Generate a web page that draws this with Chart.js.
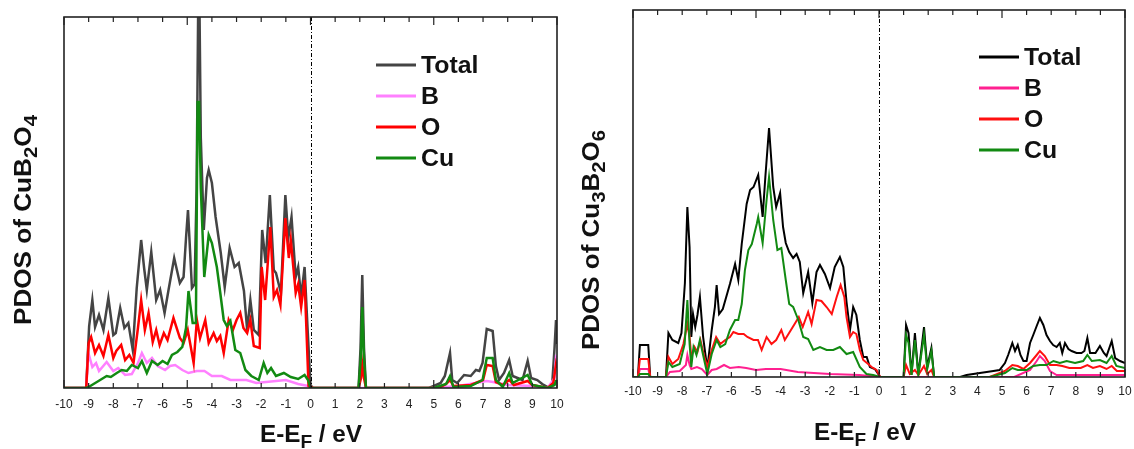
<!DOCTYPE html>
<html>
<head>
<meta charset="utf-8">
<script src="https://cdn.jsdelivr.net/npm/chart.js@4.4.1/dist/chart.umd.min.js"></script>
<style>
  body { margin: 0; background: #fff; }
  #wrap { position: relative; width: 1134px; height: 449px; }
  canvas { position: absolute; top: 0; }
</style>
</head>
<body>
<div id="wrap">
  <canvas id="c-left" width="565" height="449" style="left:0"></canvas>
  <canvas id="c-right" width="569" height="449" style="left:565px"></canvas>
</div>
<script>

// x axis tick values (eV)
let tickValues = [-10, -9, -8, -7, -6, -5, -4, -3, -2, -1, 0, 1, 2, 3, 4, 5, 6, 7, 8, 9, 10];
let seriesNames = ["Total", "B", "O", "Cu"];

// ---- CuB2O4 (left panel), PDOS in arbitrary units ----
let cub2o4TotalE = [-10, -9.1, -8.98, -8.85, -8.74, -8.58, -8.4, -8.2, -8.0, -7.9, -7.72, -7.55, -7.39, -7.21, -7.05, -6.87, -6.75, -6.64, -6.46, -6.26, -6.1, -5.92, -5.76, -5.53, -5.3, -5.15, -5.05, -4.97, -4.81, -4.7, -4.62, -4.56, -4.5, -4.45, -4.33, -4.2, -4.13, -4.0, -3.85, -3.64, -3.48, -3.28, -3.08, -2.91, -2.7, -2.57, -2.44, -2.3, -2.1, -1.96, -1.82, -1.65, -1.49, -1.4, -1.2, -1.02, -0.9, -0.77, -0.6, -0.5, -0.38, -0.24, -0.12, 0.0, 0.1, 1.95, 2.03, 2.1, 2.17, 2.25, 4.8, 5.0, 5.28, 5.45, 5.66, 5.75, 5.95, 6.23, 6.5, 6.71, 6.85, 6.98, 7.15, 7.39, 7.52, 7.65, 7.85, 8.06, 8.2, 8.4, 8.6, 8.81, 8.95, 9.2, 9.4, 9.62, 9.8, 9.9, 9.96, 10];
let cub2o4Total = [0, 0, 62, 88, 61, 73, 58, 90, 53, 55, 80, 60, 65, 38, 100, 148, 120, 98, 136, 88, 98, 75, 98, 130, 105, 111, 150, 178, 100, 104, 200, 371, 371, 250, 158, 210, 218, 205, 171, 135, 101, 140, 121, 125, 97, 58, 88, 58, 53, 158, 125, 193, 118, 115, 95, 193, 150, 171, 111, 121, 91, 121, 60, 3, 0, 0, 40, 113, 40, 0, 0, 2, 5, 12, 35, 8, 5, 13, 12, 18, 17, 25, 59, 57, 22, 8, 15, 28, 12, 10, 8, 27, 10, 8, 4, 1, 2, 40, 68, 44];

let cub2o4BE = [-10, -9.1, -9.01, -8.85, -8.7, -8.58, -8.27, -8.0, -7.8, -7.52, -7.25, -7.0, -6.84, -6.64, -6.43, -6.2, -5.9, -5.7, -5.49, -5.2, -4.95, -4.61, -4.3, -4.0, -3.6, -3.25, -2.6, -2.2, -1.8, -1.0, -0.5, -0.1, 0.0, 5.0, 6.0, 7.15, 7.4, 8.0, 9.0, 9.62, 9.9, 9.96, 10];
let cub2o4B = [0, 0, 35, 21, 25, 17, 26, 17, 20, 13, 14, 25, 35, 25, 30, 22, 18, 22, 23, 18, 15, 17, 17, 12, 12, 8, 8, 5, 6, 8, 4, 2, 0, 0, 2, 7, 6, 3, 2, 0, 10, 31, 30];

let cub2o4OE = [-10, -9.1, -9.0, -8.9, -8.74, -8.58, -8.4, -8.2, -8.0, -7.88, -7.68, -7.52, -7.35, -7.18, -7.0, -6.87, -6.72, -6.57, -6.4, -6.26, -6.12, -5.95, -5.8, -5.56, -5.3, -5.15, -4.98, -4.74, -4.61, -4.48, -4.27, -4.13, -3.93, -3.8, -3.66, -3.52, -3.32, -3.15, -3.0, -2.85, -2.72, -2.57, -2.44, -2.3, -2.06, -1.98, -1.84, -1.63, -1.49, -1.36, -1.22, -1.02, -0.88, -0.8, -0.6, -0.5, -0.38, -0.24, -0.08, 0.1, 1.95, 2.05, 2.1, 2.17, 2.25, 5.2, 5.5, 5.66, 5.8, 6.5, 7.0, 7.15, 7.39, 7.52, 7.8, 8.06, 8.25, 8.81, 9.0, 9.62, 9.85, 9.96, 10];
let cub2o4O = [0, 0, 45, 51, 35, 43, 32, 53, 30, 37, 43, 28, 33, 25, 60, 88, 58, 75, 46, 58, 43, 55, 48, 70, 50, 45, 58, 25, 68, 50, 68, 45, 55, 47, 52, 35, 68, 58, 68, 75, 60, 55, 68, 42, 40, 121, 88, 161, 91, 98, 83, 170, 130, 148, 95, 104, 81, 108, 2, 0, 0, 10, 24, 10, 0, 0, 4, 8, 2, 3, 8, 23, 22, 6, 3, 8, 3, 7, 3, 0, 5, 24, 20];

let cub2o4CuE = [-10, -9.1, -9.0, -8.8, -8.6, -8.27, -8.1, -7.86, -7.66, -7.45, -7.25, -7.0, -6.84, -6.64, -6.43, -6.2, -6.0, -5.8, -5.62, -5.4, -5.2, -5.05, -4.95, -4.78, -4.65, -4.58, -4.52, -4.45, -4.31, -4.13, -4.0, -3.8, -3.66, -3.52, -3.39, -3.25, -3.05, -2.85, -2.64, -2.4, -2.1, -1.9, -1.75, -1.6, -1.4, -1.08, -0.8, -0.5, -0.24, -0.1, 0.0, 1.95, 2.04, 2.1, 2.17, 2.25, 5.0, 5.5, 5.66, 5.8, 6.5, 6.98, 7.15, 7.39, 7.52, 7.8, 8.06, 8.2, 8.81, 9.0, 9.62, 9.9, 9.96, 10];
let cub2o4Cu = [0, 0, 1, 4, 7, 12, 11, 15, 18, 17, 23, 20, 27, 15, 27, 23, 27, 24, 33, 36, 41, 60, 97, 65, 65, 286, 286, 200, 111, 153, 145, 121, 95, 68, 62, 67, 38, 35, 18, 12, 8, 25, 15, 20, 12, 15, 11, 9, 13, 8, 0, 0, 30, 81, 30, 0, 0, 4, 12, 1, 2, 8, 30, 30, 8, 1, 15, 5, 13, 3, 0, 3, 7, 7];

// ---- Cu3B2O6 (right panel) ----
let cu3b2o6TotalE = [-10, -9.8, -9.72, -9.38, -9.3, -8.66, -8.56, -8.4, -8.16, -8.03, -7.89, -7.79, -7.7, -7.63, -7.56, -7.47, -7.38, -7.28, -7.15, -6.98, -6.8, -6.67, -6.6, -6.5, -6.35, -6.06, -5.85, -5.72, -5.58, -5.38, -5.24, -5.1, -4.91, -4.73, -4.62, -4.47, -4.3, -4.18, -4.02, -3.9, -3.79, -3.65, -3.49, -3.35, -3.22, -3.08, -2.88, -2.71, -2.54, -2.4, -2.2, -1.99, -1.8, -1.59, -1.45, -1.32, -1.18, -1.05, -0.92, -0.78, -0.64, -0.5, -0.37, -0.17, -0.03, 0.05, 1.0, 1.1, 1.2, 1.32, 1.46, 1.6, 1.83, 1.96, 2.13, 2.24, 3.3, 3.56, 4.1, 4.65, 4.9, 5.12, 5.25, 5.42, 5.53, 5.64, 5.75, 5.87, 6.0, 6.14, 6.27, 6.41, 6.54, 6.68, 6.81, 6.95, 7.08, 7.22, 7.35, 7.45, 7.56, 7.7, 7.83, 8.03, 8.23, 8.35, 8.47, 8.58, 8.8, 8.98, 9.14, 9.25, 9.46, 9.6, 9.8, 10];
let cu3b2o6Total = [0, 0, 32, 32, 0, 0, 44, 37, 34, 44, 94, 170, 130, 40, 63, 50, 62, 80, 40, 8, 47, 70, 92, 63, 68, 93, 113, 97, 133, 173, 187, 190, 202, 160, 200, 249, 190, 170, 184, 150, 134, 125, 119, 123, 115, 84, 105, 74, 105, 112, 103, 89, 110, 120, 110, 75, 47, 70, 62, 37, 20, 20, 10, 8, 3, 0, 0, 52, 44, 2, 44, 2, 50, 10, 29, 0, 0, 2, 4, 6, 7, 14, 22, 34, 26, 32, 22, 16, 16, 34, 42, 51, 59, 52, 42, 36, 32, 30, 34, 24, 34, 28, 26, 24, 24, 26, 39, 24, 24, 31, 24, 21, 36, 19, 16, 14];

let cu3b2o6BE = [-10, -9.8, -9.72, -9.38, -9.3, -8.66, -8.5, -8.1, -7.85, -7.79, -7.7, -7.63, -7.4, -7.2, -6.98, -6.8, -6.6, -6.3, -6.06, -5.7, -5.4, -5.0, -4.6, -4.0, -3.3, -2.0, -0.8, 0.05, 5.5, 6.14, 6.41, 6.54, 6.74, 6.95, 7.22, 10];
let cu3b2o6B = [0, 0, 8, 8, 0, 0, 5, 6, 12, 22, 12, 8, 10, 8, 2, 7, 8, 12, 9, 10, 9, 7, 8, 8, 5, 3, 2, 0, 0, 7, 16, 21, 16, 6, 2, 2];

let cu3b2o6OE = [-10, -9.8, -9.72, -9.38, -9.3, -8.66, -8.56, -8.4, -8.16, -7.95, -7.79, -7.7, -7.63, -7.5, -7.38, -7.26, -7.12, -6.98, -6.8, -6.62, -6.45, -6.25, -6.06, -5.92, -5.72, -5.5, -5.35, -5.1, -4.92, -4.77, -4.57, -4.37, -4.18, -3.97, -3.83, -3.63, -3.43, -3.26, -3.1, -2.88, -2.74, -2.54, -2.34, -2.13, -1.92, -1.72, -1.56, -1.41, -1.32, -1.18, -1.05, -0.92, -0.78, -0.64, -0.44, -0.3, -0.1, 0.05, 1.0, 1.1, 1.25, 1.46, 1.6, 1.83, 1.96, 2.13, 2.24, 4.5, 5.12, 5.42, 5.64, 5.87, 6.14, 6.41, 6.54, 6.74, 6.95, 7.22, 7.45, 7.74, 8.2, 8.47, 8.7, 8.98, 9.25, 9.46, 9.67, 10];
let cu3b2o6O = [0, 0, 18, 18, 0, 0, 20, 13, 18, 33, 53, 40, 20, 30, 25, 37, 22, 10, 27, 40, 33, 37, 40, 45, 43, 43, 40, 37, 37, 27, 40, 33, 37, 47, 37, 45, 53, 60, 50, 65, 53, 77, 76, 70, 63, 80, 92, 80, 60, 40, 45, 43, 27, 17, 13, 10, 7, 0, 0, 12, 3, 7, 2, 11, 3, 7, 0, 0, 6, 12, 11, 8, 14, 22, 26, 21, 12, 12, 11, 9, 9, 12, 9, 11, 8, 11, 6, 6];

let cu3b2o6CuE = [-10, -9.8, -9.72, -9.38, -9.3, -8.66, -8.56, -8.4, -8.1, -7.9, -7.79, -7.7, -7.63, -7.54, -7.42, -7.28, -7.15, -6.98, -6.8, -6.6, -6.45, -6.25, -6.06, -5.85, -5.72, -5.58, -5.45, -5.31, -5.17, -4.97, -4.91, -4.73, -4.57, -4.47, -4.3, -4.13, -3.97, -3.79, -3.65, -3.49, -3.28, -3.08, -2.88, -2.67, -2.4, -2.13, -1.86, -1.59, -1.32, -1.05, -0.78, -0.51, -0.24, 0.05, 1.0, 1.1, 1.2, 1.32, 1.46, 1.6, 1.83, 1.96, 2.13, 2.24, 4.5, 5.12, 5.42, 5.64, 6.0, 6.27, 6.54, 6.81, 7.09, 7.35, 7.63, 7.97, 8.3, 8.47, 8.65, 8.98, 9.25, 9.46, 9.65, 10];
let cu3b2o6Cu = [0, 0, 3, 3, 0, 0, 15, 10, 13, 33, 77, 33, 10, 30, 22, 37, 22, 3, 23, 37, 30, 33, 47, 57, 57, 73, 107, 127, 133, 153, 160, 134, 177, 200, 157, 127, 129, 97, 73, 70, 57, 40, 38, 27, 30, 27, 27, 30, 23, 25, 10, 3, 2, 0, 0, 42, 34, 2, 37, 2, 42, 8, 26, 0, 0, 4, 9, 7, 7, 11, 12, 12, 16, 14, 16, 14, 16, 22, 16, 17, 14, 21, 11, 9];

function toPoints(xs, ys) {
	let pts = [];
	for (let i = 0; i < xs.length; i++) pts.push({x: xs[i], y: ys[i]});
	return pts;
}

const FONT = "'Liberation Sans', Arial, Helvetica, sans-serif";

// draws text made of [text, isSubscript] parts, centred on x,
// stretched along the text direction to span `span` pixels if given
function drawParts(ctx, parts, x, y, size, span) {
	let subSize = Math.round(size * 0.78);
	let w = 0;
	parts.forEach(function(p) {
		ctx.font = "bold " + (p[1] ? subSize : size) + "px " + FONT;
		w += ctx.measureText(p[0]).width;
	});
	let k = span ? span / w : 1;
	ctx.save();
	ctx.translate(x, y);
	ctx.scale(k, 1);
	let cx = -w / 2;
	ctx.textAlign = "left";
	ctx.textBaseline = "alphabetic";
	parts.forEach(function(p) {
		ctx.font = "bold " + (p[1] ? subSize : size) + "px " + FONT;
		ctx.fillText(p[0], cx, p[1] ? size * 0.25 : 0);
		cx += ctx.measureText(p[0]).width;
	});
	ctx.restore();
}

// frame, inward ticks, E_F line, legend and titles
let decorPlugin = {
	id: "decor",
	afterDatasetsDraw: function(chart) {
		let ctx = chart.ctx;
		let a = chart.chartArea;
		let xs = chart.scales.x;
		let d = chart.options.plugins.decor;
		ctx.save();

		// E_F dash-dot line
		let x0 = Math.round(xs.getPixelForValue(0)) + 0.5;
		ctx.strokeStyle = "#000";
		ctx.lineWidth = 1;
		ctx.setLineDash([4, 2, 1, 2]);
		ctx.beginPath();
		ctx.moveTo(x0, a.top);
		ctx.lineTo(x0, a.bottom);
		ctx.stroke();
		ctx.setLineDash([]);

		// tick marks pointing inward
		ctx.strokeStyle = "#222";
		ctx.lineWidth = 1.2;
		tickValues.forEach(function(v) {
			let px = xs.getPixelForValue(v);
			let len = (v % 5 === 0) ? 8 : 5;
			ctx.beginPath();
			ctx.moveTo(px, a.top);
			ctx.lineTo(px, a.top + len);
			ctx.moveTo(px, a.bottom);
			ctx.lineTo(px, a.bottom - len);
			ctx.stroke();
		});

		// frame
		ctx.strokeStyle = "#222";
		ctx.lineWidth = 1.6;
		ctx.strokeRect(a.left, a.top, a.right - a.left, a.bottom - a.top);

		// legend
		chart.data.datasets.forEach(function(ds, i) {
			let y = d.legendY + i * d.legendStep;
			ctx.strokeStyle = ds.borderColor;
			ctx.lineWidth = 3;
			ctx.beginPath();
			ctx.moveTo(d.legendX, y);
			ctx.lineTo(d.legendX + 40, y);
			ctx.stroke();
			ctx.save();
			ctx.translate(d.legendX + 45, y + 8);
			ctx.scale(1.08, 1);
			ctx.font = "bold 23px " + FONT;
			ctx.textBaseline = "alphabetic";
			ctx.textAlign = "left";
			ctx.fillStyle = "#111";
			ctx.fillText(ds.label, 0, 0);
			ctx.restore();
		});

		// x title
		ctx.fillStyle = "#111";
		drawParts(ctx, [["E-E", false], ["F", true], [" / eV", false]], d.xTitleX, d.xTitleY, 23, 102);

		// y title, rotated
		ctx.translate(d.yTitleX, d.yTitleY);
		ctx.rotate(-Math.PI / 2);
		drawParts(ctx, d.yTitle, 0, 0, 23, d.yTitleSpan);

		ctx.restore();
	}
};

function makeChart(canvasId, sets, colors, lineWidth, yMax, pad, xHeight, tickPad, decor) {
	let datasets = [];
	for (let i = 0; i < sets.length; i++) {
		datasets.push({
			label: seriesNames[i],
			data: toPoints(sets[i][0], sets[i][1]),
			borderColor: colors[i],
			borderWidth: lineWidth,
			pointRadius: 0,
			tension: 0,
			fill: false,
			order: sets.length - i
		});
	}
	return new Chart(document.getElementById(canvasId), {
		type: "line",
		data: { datasets: datasets },
		options: {
			responsive: false,
			animation: false,
			layout: { padding: pad },
			plugins: {
				legend: { display: false },
				tooltip: { enabled: false },
				decor: decor
			},
			scales: {
				x: {
					type: "linear",
					min: -10,
					max: 10,
					afterBuildTicks: function(scale) {
						scale.ticks = tickValues.map(function(v) { return {value: v}; });
					},
					afterFit: function(scale) {
						scale.height = xHeight;
						scale.paddingLeft = 0;
						scale.paddingRight = 0;
					},
					ticks: {
						color: "#222",
						font: { family: FONT, size: 12 },
						padding: tickPad,
						maxRotation: 0,
						autoSkip: false
					},
					grid: { display: false, drawTicks: false },
					border: { display: false }
				},
				y: { display: false, min: 0, max: yMax }
			}
		},
		plugins: [decorPlugin]
	});
}

makeChart("c-left",
	[[cub2o4TotalE, cub2o4Total], [cub2o4BE, cub2o4B], [cub2o4OE, cub2o4O], [cub2o4CuE, cub2o4Cu]],
	["#444444", "#ff80ff", "#ff0000", "#128a12"],
	2.5, 371,
	{ left: 64, top: 17, right: 8, bottom: 0 }, 61, 9,
	{
		legendX: 376, legendY: 65, legendStep: 31,
		xTitleX: 311, xTitleY: 442,
		yTitleX: 31, yTitleY: 220, yTitleSpan: 210,
		yTitle: [["PDOS of CuB", false], ["2", true], ["O", false], ["4", true]]
	});

makeChart("c-right",
	[[cu3b2o6TotalE, cu3b2o6Total], [cu3b2o6BE, cu3b2o6B], [cu3b2o6OE, cu3b2o6O], [cu3b2o6CuE, cu3b2o6Cu]],
	["#000000", "#ff2090", "#ff1010", "#128a12"],
	2, 367,
	{ left: 68, top: 10, right: 9, bottom: 0 }, 72, 7,
	{
		legendX: 414, legendY: 57, legendStep: 31,
		xTitleX: 300, xTitleY: 440,
		yTitleX: 34, yTitleY: 240, yTitleSpan: 220,
		yTitle: [["PDOS of Cu", false], ["3", true], ["B", false], ["2", true], ["O", false], ["6", true]]
	});

</script>
</body>
</html>
